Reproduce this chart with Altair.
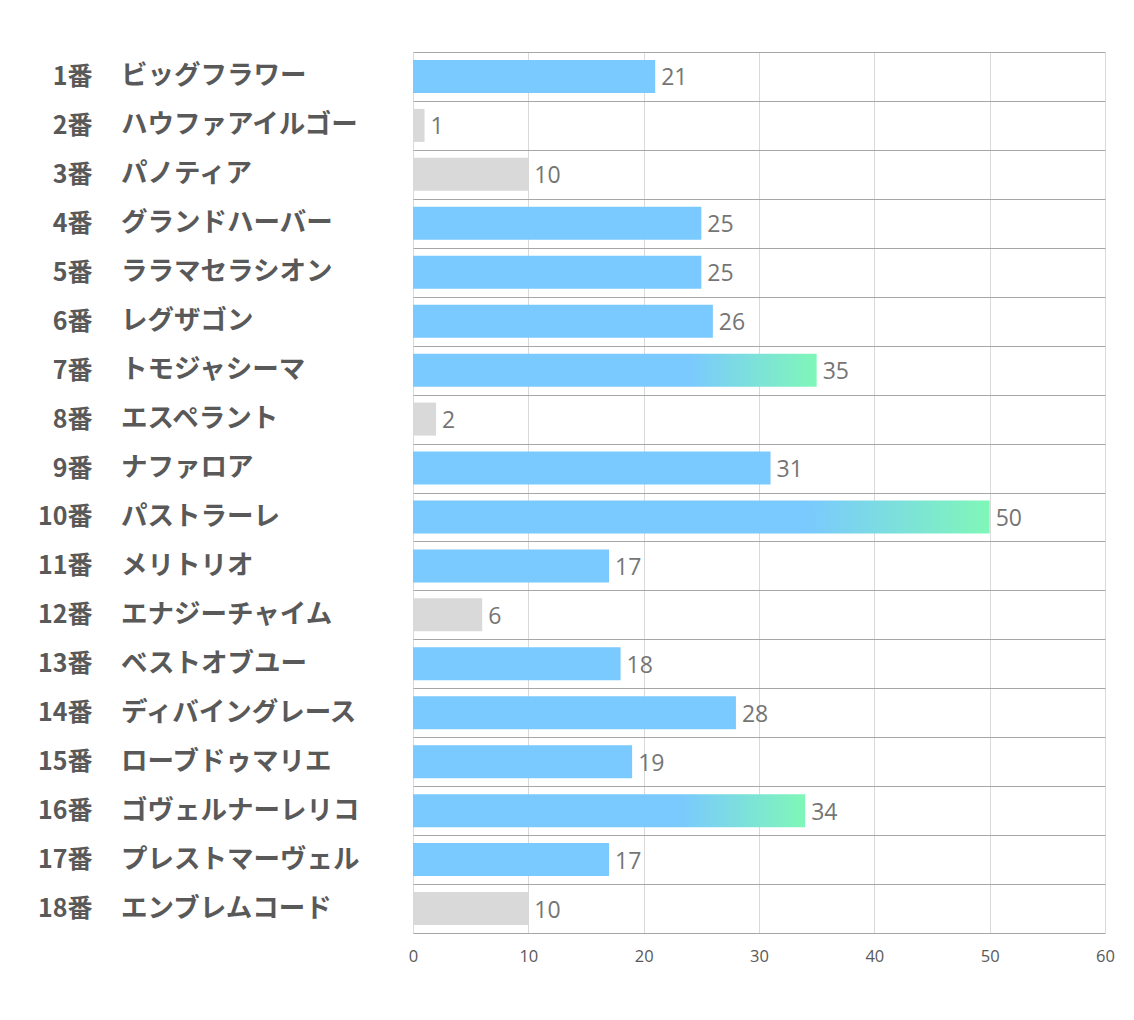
import altair as alt
import pandas as pd

nums = ["1番", "2番", "3番", "4番", "5番", "6番", "7番", "8番", "9番", "10番",
        "11番", "12番", "13番", "14番", "15番", "16番", "17番", "18番"]
names = ["ビッグフラワー", "ハウファアイルゴー", "パノティア", "グランドハーバー",
         "ララマセラシオン", "レグザゴン", "トモジャシーマ", "エスペラント",
         "ナファロア", "パストラーレ", "メリトリオ", "エナジーチャイム",
         "ベストオブユー", "ディバイングレース", "ローブドゥマリエ",
         "ゴヴェルナーレリコ", "プレストマーヴェル", "エンブレムコード"]
values = [21, 1, 10, 25, 25, 26, 35, 2, 31, 50, 17, 6, 18, 28, 19, 34, 17, 10]
groups = ["blue", "gray", "gray", "blue", "blue", "blue", "grad", "gray", "blue",
          "grad", "blue", "gray", "blue", "blue", "blue", "grad", "blue", "gray"]
x_ticks = [0, 10, 20, 30, 40, 50, 60]

df = pd.DataFrame({"num": nums, "name": names, "value": values, "group": groups})

BLUE = "#7AC9FF"
GREEN = "#7FF7B8"
GRAY = "#D9D9D9"
JP = "Noto Sans CJK JP"

y_axis = alt.Axis(
    title=None, domain=False, ticks=False, grid=True, gridColor="#A6A6A6",
    gridWidth=1, tickBand="extent", labelFontSize=25, labelFont=JP,
    labelFontWeight="bold", labelColor="#595959", labelPadding=321,
    labelAlign="right",
)
y_scale = alt.Scale(domain=nums, paddingInner=0, paddingOuter=0)
x_axis = alt.Axis(
    title=None, domain=False, ticks=False, grid=True, gridColor="#D9D9D9",
    values=x_ticks, labelFontSize=16.5, labelFont="Open Sans",
    labelColor="#595959", labelPadding=15, labelFlush=False,
)
x_scale = alt.Scale(domain=[0, 60], nice=False)

base = alt.Chart(df)
y_enc = alt.Y("num:N", scale=y_scale, axis=y_axis, sort=nums)
x_enc = alt.X("value:Q", scale=x_scale, axis=x_axis)

bars_blue = base.transform_filter(alt.datum.group == "blue").mark_bar(
    color=BLUE, size=33
).encode(x=x_enc, y=y_enc)

bars_gray = base.transform_filter(alt.datum.group == "gray").mark_bar(
    color=GRAY, size=33
).encode(x=x_enc, y=y_enc)

grad = alt.Gradient(
    gradient="linear",
    stops=[alt.GradientStop(color=BLUE, offset=0),
           alt.GradientStop(color=BLUE, offset=0.68),
           alt.GradientStop(color=GREEN, offset=1)],
    x1=0, x2=1, y1=0, y2=0,
)
bars_grad = base.transform_filter(alt.datum.group == "grad").mark_bar(
    color=grad, size=33
).encode(x=x_enc, y=y_enc)

val_text = base.mark_text(
    align="left", baseline="middle", dx=6, dy=2, fontSize=23, font="Open Sans",
    color="#757575"
).encode(x=x_enc, y=y_enc, text="value:Q")

name_text = base.mark_text(
    align="left", baseline="middle", fontSize=26.5, font=JP, fontWeight="bold",
    color="#595959"
).encode(x=alt.value(-292), y=y_enc, text="name:N")

chart = alt.layer(bars_blue, bars_gray, bars_grad, val_text, name_text).properties(
    width=692, height=881,
    padding={"left": 413, "top": 52, "right": 29, "bottom": 87},
    autosize=alt.AutoSizeParams(type="none"),
    background="white",
).configure_view(stroke=None)

chart.save("out.html", embed_options={"renderer": "svg", "actions": False})
